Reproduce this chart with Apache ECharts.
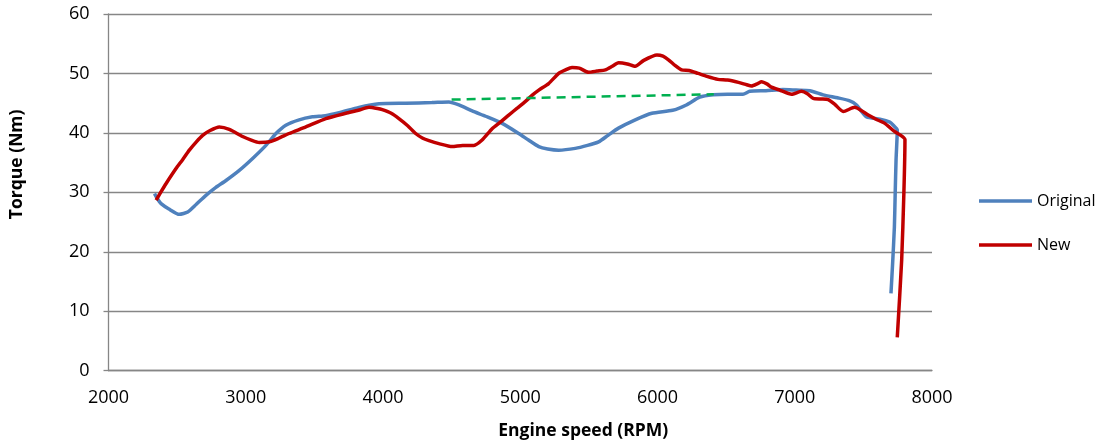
<!DOCTYPE html>
<html>
<head>
<meta charset="utf-8">
<title>Torque curves</title>
<script src="https://cdn.jsdelivr.net/npm/echarts@6/dist/echarts.min.js"></script>
<style>
  html, body { margin: 0; padding: 0; background: #ffffff; }
  #chart { width: 1108px; height: 441px; }
</style>
</head>
<body>
<div id="chart"></div>
<script>
// Engine speed (RPM) and torque (Nm) for the original tune
const origRpm = [2335, 2360, 2383, 2440, 2516, 2577, 2640, 2710, 2780, 2856, 2953, 3050, 3147, 3220, 3292, 3389, 3486, 3580, 3680, 3825, 3971, 4165, 4356, 4480, 4553, 4650, 4747, 4868, 4989, 5060, 5135, 5200, 5280, 5401, 5490, 5571, 5640, 5716, 5838, 5959, 6110, 6210, 6308, 6405, 6510, 6623, 6672, 6790, 6914, 7010, 7110, 7207, 7312, 7401, 7450, 7487, 7523, 7620, 7693, 7718, 7747, 7738, 7732, 7726, 7713, 7701];
const origTorque = [29.8, 28.8, 28.1, 27.2, 26.3, 26.7, 28.0, 29.5, 30.8, 32.0, 33.7, 35.7, 37.9, 39.9, 41.3, 42.2, 42.7, 42.9, 43.4, 44.3, 44.9, 45.0, 45.1, 45.2, 44.7, 43.7, 42.8, 41.6, 39.9, 38.8, 37.7, 37.3, 37.1, 37.4, 37.9, 38.5, 39.6, 40.8, 42.2, 43.3, 43.8, 44.7, 46.0, 46.4, 46.5, 46.5, 47.0, 47.1, 47.3, 47.2, 47.1, 46.4, 45.9, 45.4, 44.7, 43.6, 42.7, 42.3, 41.8, 41.3, 40.5, 35.4, 30.0, 24.2, 18.0, 13.0];

// Engine speed (RPM) and torque (Nm) for the new tune
const newRpm = [2347, 2380, 2420, 2492, 2540, 2589, 2640, 2686, 2740, 2807, 2880, 2977, 3040, 3098, 3171, 3240, 3316, 3438, 3583, 3729, 3820, 3898, 3960, 3995, 4060, 4116, 4180, 4238, 4290, 4335, 4407, 4504, 4580, 4662, 4722, 4795, 4860, 4916, 4980, 5038, 5090, 5135, 5207, 5280, 5330, 5377, 5430, 5498, 5560, 5620, 5670, 5716, 5780, 5838, 5900, 5996, 6040, 6080, 6130, 6175, 6230, 6296, 6360, 6440, 6510, 6590, 6650, 6685, 6730, 6758, 6800, 6830, 6890, 6977, 7049, 7092, 7135, 7192, 7244, 7292, 7353, 7437, 7482, 7535, 7592, 7656, 7729, 7772, 7803, 7795, 7779, 7747];
const newTorque = [28.7, 30.0, 31.5, 34.0, 35.5, 37.1, 38.5, 39.6, 40.4, 41.0, 40.6, 39.4, 38.8, 38.4, 38.5, 39.1, 39.9, 41.0, 42.4, 43.3, 43.8, 44.3, 44.1, 43.9, 43.3, 42.4, 41.2, 39.9, 39.1, 38.7, 38.2, 37.7, 37.9, 37.9, 38.8, 40.7, 41.9, 43.0, 44.2, 45.3, 46.4, 47.2, 48.3, 50.0, 50.6, 51.0, 50.9, 50.2, 50.4, 50.6, 51.2, 51.8, 51.6, 51.2, 52.2, 53.1, 52.9, 52.3, 51.3, 50.6, 50.5, 50.0, 49.5, 49.0, 48.9, 48.5, 48.1, 47.9, 48.3, 48.6, 48.2, 47.7, 47.2, 46.5, 47.0, 46.6, 45.8, 45.7, 45.6, 44.8, 43.6, 44.3, 43.8, 43.0, 42.3, 41.6, 40.2, 39.6, 38.9, 29.8, 18.6, 5.6];

// Straight dashed reference across the mid-range dip
const refRpm = [4500, 6410];
const refTorque = [45.6, 46.5];

const xTicks = { min: 2000, max: 8000, step: 1000 };
const yTicks = { min: 0, max: 60, step: 10 };

const zip = (xs, ys) => xs.map((x, i) => [x, ys[i]]);

const FONT = "'Open Sans', 'Noto Sans', sans-serif";
const AXIS_GREY = '#868686';

const chart = echarts.init(document.getElementById('chart'), null, { renderer: 'canvas' });

chart.setOption({
  animation: false,
  backgroundColor: '#ffffff',
  grid: { left: 108.5, right: 176, top: 14, bottom: 70.3, containLabel: false, outerBoundsMode: 'none' },
  legend: {
    orient: 'vertical',
    left: 974,
    top: 188,
    itemGap: 28,
    itemWidth: 53,
    itemHeight: 3.5,
    icon: 'rect',
    data: ['Original', 'New'],
    textStyle: { fontFamily: FONT, fontSize: 16, color: '#000000' }
  },
  xAxis: {
    type: 'value',
    min: xTicks.min,
    max: xTicks.max,
    interval: xTicks.step,
    name: 'Engine speed (RPM)',
    nameLocation: 'middle',
    nameGap: 51,
    nameTextStyle: { fontFamily: FONT, fontSize: 17.5, fontWeight: 'bold', color: '#000000', padding: [0, 0, 0, 126] },
    axisLine: { show: true, lineStyle: { color: AXIS_GREY, width: 1.3 } },
    axisTick: { show: false },
    splitLine: { show: false },
    axisLabel: { fontFamily: FONT, fontSize: 18, color: '#000000', margin: 18, formatter: (v) => String(v) }
  },
  yAxis: {
    type: 'value',
    min: yTicks.min,
    max: yTicks.max,
    interval: yTicks.step,
    name: 'Torque (Nm)',
    nameLocation: 'middle',
    nameRotate: 90,
    nameGap: 82,
    nameTextStyle: { fontFamily: FONT, fontSize: 17.5, fontWeight: 'bold', color: '#000000', padding: [0, 0, 0, 56] },
    axisLine: { show: true, lineStyle: { color: AXIS_GREY, width: 1.3 } },
    axisTick: { show: true, inside: false, length: 5, lineStyle: { color: AXIS_GREY, width: 1.3 } },
    splitLine: { show: true, lineStyle: { color: AXIS_GREY, width: 1.3 } },
    axisLabel: { fontFamily: FONT, fontSize: 18, color: '#000000', margin: 19 }
  },
  series: [
    {
      name: 'Original',
      type: 'line',
      data: zip(origRpm, origTorque),
      showSymbol: false,
      symbol: 'none',
      smooth: 0.2,
      lineStyle: { color: '#4F81BD', width: 3.5 },
      itemStyle: { color: '#4F81BD' },
      z: 2
    },
    {
      name: 'New',
      type: 'line',
      data: zip(newRpm, newTorque),
      showSymbol: false,
      symbol: 'none',
      smooth: 0.2,
      lineStyle: { color: '#C00000', width: 3.5 },
      itemStyle: { color: '#C00000' },
      z: 3
    },
    {
      name: 'Reference',
      type: 'line',
      data: zip(refRpm, refTorque),
      showSymbol: false,
      symbol: 'none',
      lineStyle: { color: '#00B050', width: 2.5, type: [9, 6] },
      itemStyle: { color: '#00B050' },
      z: 4
    }
  ]
});
</script>
</body>
</html>
